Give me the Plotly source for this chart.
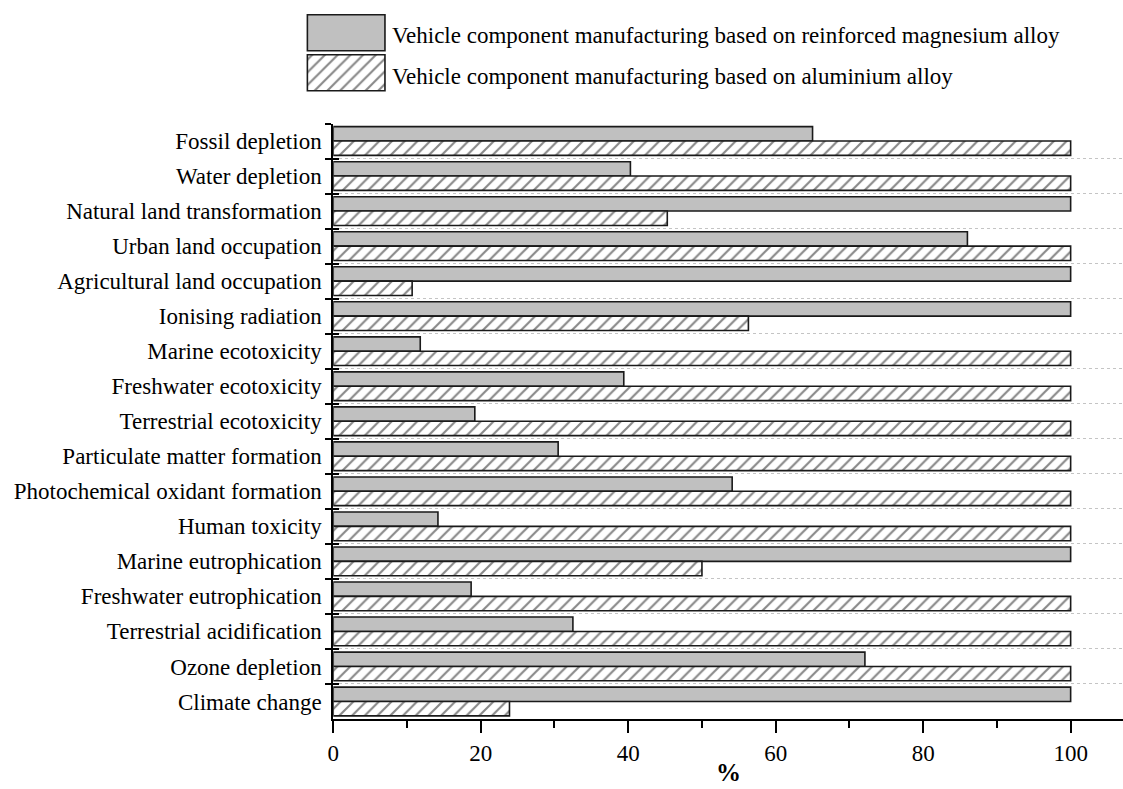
import plotly.graph_objects as go

# Impact categories, listed from top to bottom
categories = [
    "Fossil depletion",
    "Water depletion",
    "Natural land transformation",
    "Urban land occupation",
    "Agricultural land occupation",
    "Ionising radiation",
    "Marine ecotoxicity",
    "Freshwater ecotoxicity",
    "Terrestrial ecotoxicity",
    "Particulate matter formation",
    "Photochemical oxidant formation",
    "Human toxicity",
    "Marine eutrophication",
    "Freshwater eutrophication",
    "Terrestrial acidification",
    "Ozone depletion",
    "Climate change",
]

# Relative impact (%) of each process
magnesium = [65.0, 40.3, 100, 86.0, 100, 100, 11.8, 39.4, 19.2, 30.5,
             54.1, 14.2, 100, 18.7, 32.5, 72.1, 100]
aluminium = [100, 100, 45.3, 100, 10.7, 56.3, 100, 100, 100, 100,
             100, 100, 50.0, 100, 100, 100, 23.9]

series_names = [
    "Vehicle component manufacturing based on reinforced magnesium alloy",
    "Vehicle component manufacturing based on aluminium alloy",
]

x_ticks = [0, 20, 40, 60, 80, 100]

FONT = "Liberation Serif"
GRAY = "#c0c0c0"
EDGE = "#1a1a1a"
HATCH = dict(shape="/", fgcolor="#111111", bgcolor="white", size=9, solidity=0.24)

W, H = 1123, 789
M_B = 70
PH = H - M_B          # paper height in px
AX_LEFT = 329
PLOT_TOP = 123.5


def px_x(v):
    return v / W


def px_y(v_from_top):
    return (PH - v_from_top) / PH


fig = go.Figure()

fig.add_trace(go.Bar(
    y=categories, x=magnesium, orientation="h", name=series_names[0],
    offsetgroup="mg",
    marker=dict(color=GRAY, line=dict(color=EDGE, width=1.6)),
    showlegend=False, hoverinfo="x+y",
))
fig.add_trace(go.Bar(
    y=categories, x=aluminium, orientation="h", name=series_names[1],
    offsetgroup="al",
    marker=dict(color="white", pattern=HATCH, line=dict(color=EDGE, width=1.6)),
    showlegend=False, hoverinfo="x+y",
))

# Overlay axis carrying the inward half of the boundary ticks
fig.add_trace(go.Scatter(x=[None], y=[None], xaxis="x", yaxis="y3",
                         showlegend=False, hoverinfo="skip"))

# Legend swatches drawn as bars on a small inset axis
fig.add_trace(go.Bar(
    y=[1], x=[1], orientation="h", xaxis="x2", yaxis="y2", width=0.9,
    offsetgroup="leg", showlegend=False, hoverinfo="skip",
    marker=dict(color=GRAY, line=dict(color=EDGE, width=1.6)),
))
fig.add_trace(go.Bar(
    y=[0], x=[1], orientation="h", xaxis="x2", yaxis="y2", width=0.9,
    offsetgroup="leg", showlegend=False, hoverinfo="skip",
    marker=dict(color="white", pattern=HATCH, line=dict(color=EDGE, width=1.6)),
))

n = len(categories)
boundaries = [i - 0.5 for i in range(n + 1)]

main_top = px_y(PLOT_TOP)

fig.update_layout(
    width=W, height=H, autosize=False,
    margin=dict(l=0, r=0, t=0, b=M_B, pad=0),
    paper_bgcolor="white", plot_bgcolor="white",
    barmode="group", bargap=0.18, bargroupgap=0,
    font=dict(family=FONT, color="black", size=22),
    xaxis=dict(
        domain=[px_x(AX_LEFT), 1], range=[0, 107.1],
        tickvals=x_ticks, ticks="outside", ticklen=12, tickwidth=2, tickcolor="black",
        minor=dict(dtick=10, tick0=0, ticks="outside", ticklen=7, tickwidth=2, tickcolor="black"),
        showline=True, linewidth=2, linecolor="black", showgrid=False, zeroline=False,
        tickfont=dict(family=FONT, size=23), anchor="y",
    ),
    yaxis=dict(
        domain=[0, main_top], type="category",
        categoryorder="array", categoryarray=categories,
        range=[n - 0.5, -0.5],
        tickson="boundaries", ticks="outside", ticklen=6, tickwidth=2, tickcolor="black",
        showline=True, linewidth=2, linecolor="black",
        showgrid=True, gridcolor="#c4c4c4", griddash="dot", gridwidth=1,
        tickfont=dict(family=FONT, size=23), ticklabelstandoff=5, anchor="x",
    ),
    yaxis3=dict(
        overlaying="y", type="linear", range=[n - 0.5, -0.5], anchor="x", side="left",
        tickvals=boundaries, ticks="inside", ticklen=6, tickwidth=2, tickcolor="black",
        showticklabels=False, showgrid=False, zeroline=False, showline=False,
    ),
    xaxis2=dict(
        domain=[px_x(299.1), px_x(384.9)], range=[-0.05, 1.05], anchor="y2",
        visible=False, fixedrange=True,
    ),
    yaxis2=dict(
        domain=[px_y(92.7), px_y(12.7)], range=[-0.5, 1.5], anchor="x2",
        visible=False, fixedrange=True,
    ),
)

legend_y = [35, 77]
for name, yy in zip(series_names, legend_y):
    fig.add_annotation(
        xref="paper", yref="paper", x=px_x(386), y=px_y(yy),
        xanchor="left", yanchor="middle", showarrow=False,
        text=name, font=dict(family=FONT, size=23, color="black"),
    )

# Axis title
fig.add_annotation(
    xref="paper", yref="paper", x=px_x((AX_LEFT + W) / 2), y=px_y(757),
    xanchor="center", yanchor="top", showarrow=False,
    text="<b>%</b>", font=dict(family=FONT, size=25, color="black"),
)

fig.write_html("out.html")
